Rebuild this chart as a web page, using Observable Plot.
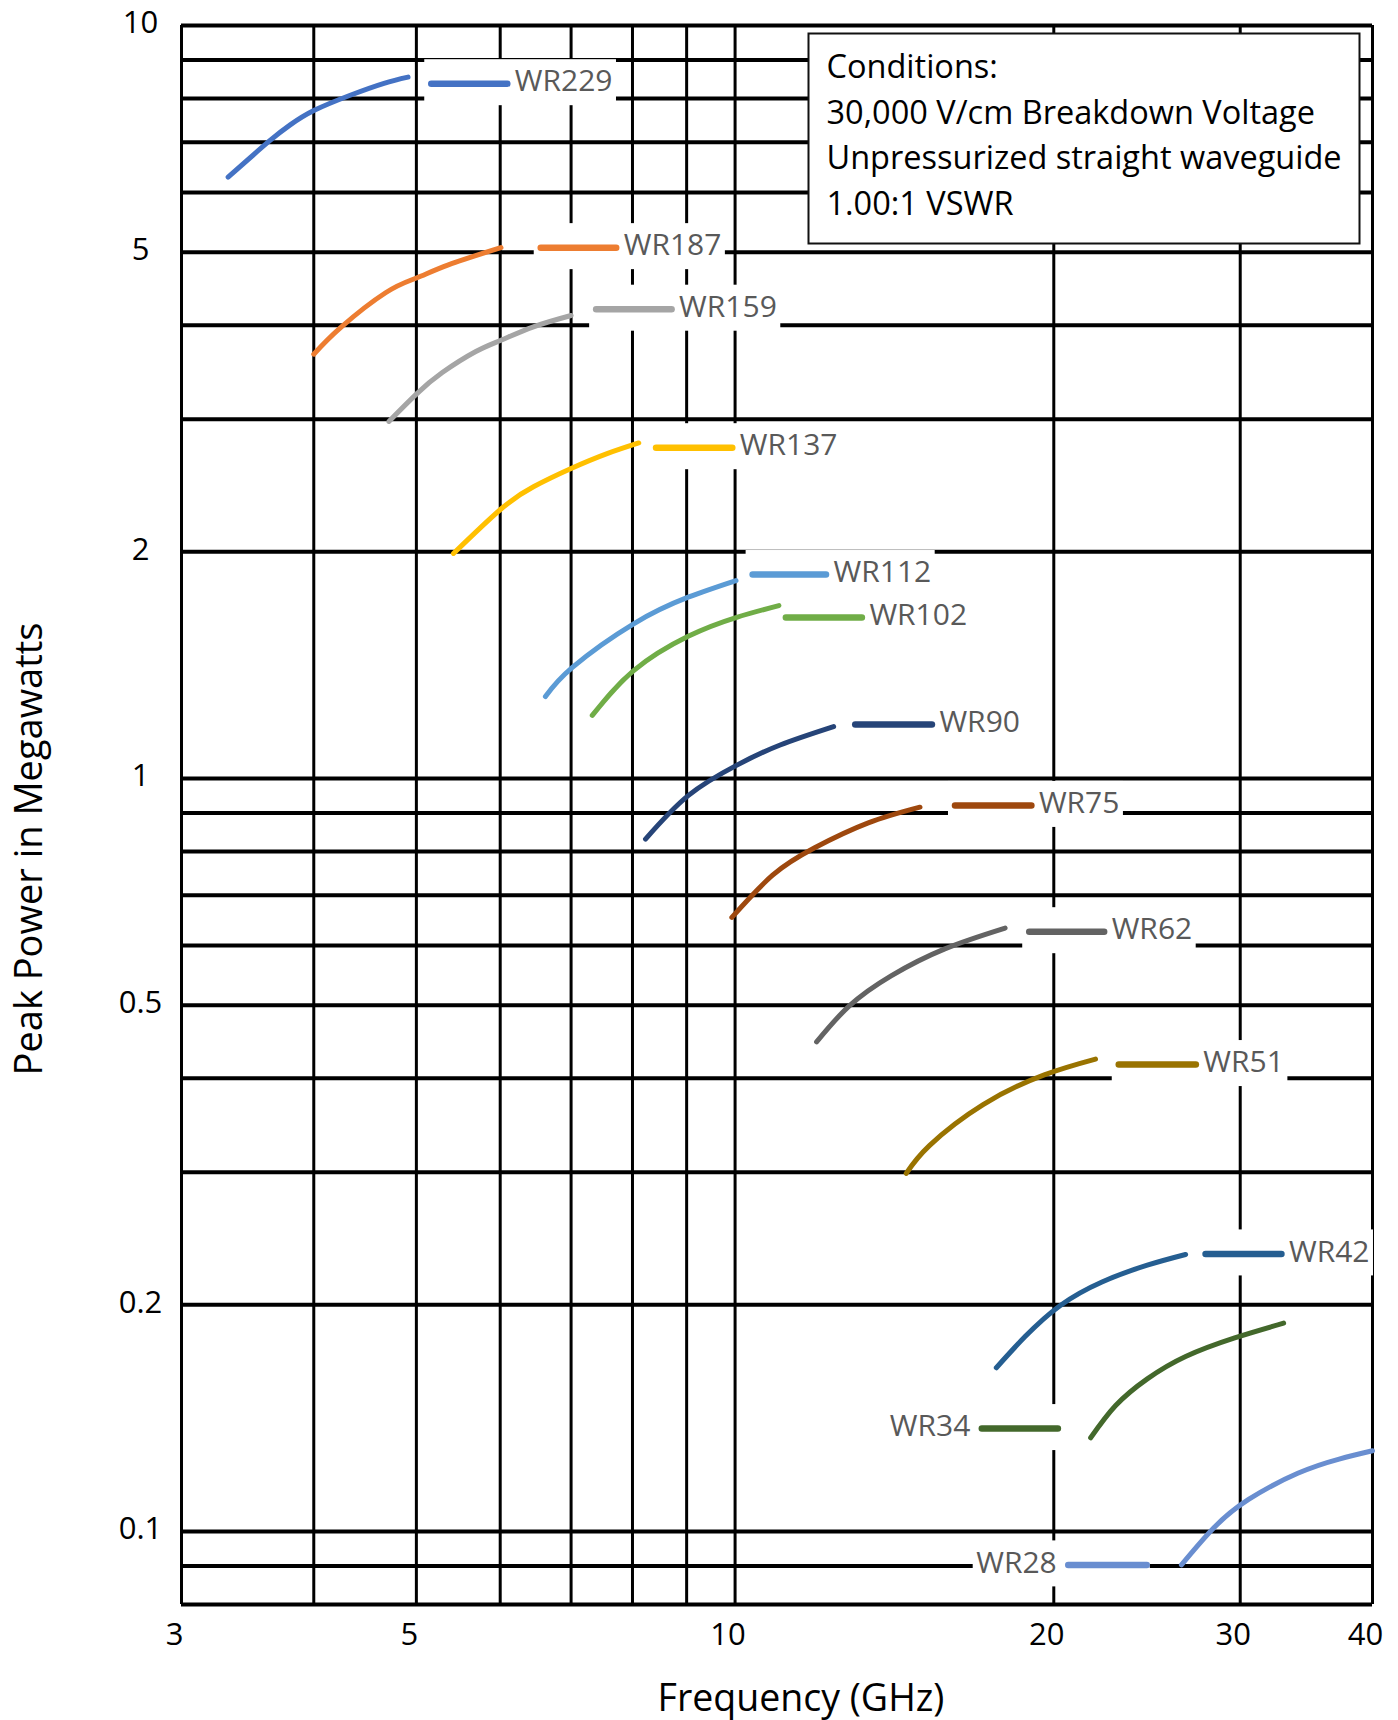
<!DOCTYPE html>
<html><head><meta charset="utf-8">
<script src="https://cdn.jsdelivr.net/npm/d3@7"></script>
<script src="https://cdn.jsdelivr.net/npm/@observablehq/plot@0.6"></script>
<style>
html,body{margin:0;padding:0;background:#fff;}
#chart svg{display:block;}
</style></head><body><div id="chart"></div>
<script>
// ---- data (frequency GHz, peak power MW) ----
const guides = ["WR229","WR187","WR159","WR137","WR112","WR102","WR90","WR75","WR62","WR51","WR42","WR34","WR28"];
const guideColors = ["#4472C4","#ED7D31","#A5A5A5","#FFC000","#5B9BD5","#70AD47","#264478","#9E480E","#636363","#997300","#255E91","#43682B","#698ED0"];

const wr229 = [[3.32,6.29],[3.63,7.02],[3.80,7.38],[4.00,7.71],[4.33,8.08],[4.66,8.38],[4.91,8.54]];
const wr187 = [[4.00,3.66],[4.24,3.97],[4.68,4.42],[5.00,4.62],[5.36,4.81],[6.01,5.07]];
const wr159 = [[4.71,2.98],[5.00,3.24],[5.29,3.46],[5.69,3.69],[6.01,3.82],[6.45,3.98],[7.00,4.12]];
const wr137 = [[5.42,1.99],[6.01,2.28],[6.45,2.44],[7.00,2.58],[7.57,2.70],[8.11,2.79]];
const wr112 = [[6.62,1.285],[7.02,1.405],[8.02,1.605],[9.03,1.741],[10.02,1.832]];
const wr102 = [[7.33,1.213],[8.02,1.391],[9.03,1.545],[10.02,1.636],[11.0,1.697]];
const wr90  = [[8.23,0.831],[9.03,0.949],[10.03,1.041],[11.03,1.108],[12.39,1.172]];
const wr75  = [[9.93,0.654],[10.85,0.744],[11.89,0.809],[13.36,0.873],[14.95,0.916]];
const wr62  = [[11.94,0.447],[12.82,0.499],[14.04,0.547],[15.78,0.594],[17.99,0.633]];
const wr51  = [[14.51,0.299],[15.26,0.3255],[17.15,0.369],[19.59,0.404],[21.9,0.424]];
const wr42  = [[17.65,0.165],[18.79,0.1815],[20.27,0.1995],[22.21,0.2145],[24.51,0.2258],[26.64,0.2333]];
const wr34  = [[21.67,0.1332],[22.88,0.147],[24.51,0.1595],[26.64,0.1708],[29.64,0.1808],[32.97,0.1891]];
const wr28  = [[26.4,0.0903],[28.3,0.101],[30.55,0.1103],[34.0,0.1195],[37.2,0.1248],[40,0.128]];
const seriesValues = [wr229,wr187,wr159,wr137,wr112,wr102,wr90,wr75,wr62,wr51,wr42,wr34,wr28];

// legend key segments placed next to each curve (data units)
const keyStartGHz = [5.17,6.56,7.40,8.43,10.4,11.18,13.0,16.15,18.98,23.06,27.85,17.12,20.66];
const keyEndGHz   = [6.10,7.73,8.72,9.95,12.2,13.19,15.36,19.07,22.34,27.27,32.85,20.2,24.51];
const keyPowerMW  = [8.37,5.07,4.20,2.75,1.866,1.636,1.18,0.921,0.626,0.417,0.2337,0.137,0.0903];
const keyTextSide = ["right","right","right","right","right","right","right","right","right","right","right","left","left"];

const xGridGHz = [3,4,5,6,7,8,9,10,20,30,40];
const yGridMW = [0.08,0.09,0.1,0.2,0.3,0.4,0.5,0.6,0.7,0.8,0.9,1,2,3,4,5,6,7,8,9,10];
const xTickLabels = [3,5,10,20,30,40];
const yTickLabels = [10,5,2,1,0.5,0.2,0.1];
const conditions = ["Conditions:","30,000 V/cm Breakdown Voltage","Unpressurized straight waveguide","1.00:1 VSWR"];

// ---- drawing ----
const FONT = "'Open Sans', sans-serif";
const labelSize = 30;
const ctx = document.createElement("canvas").getContext("2d");
ctx.font = `${labelSize}px 'Open Sans'`;

const marks = [
  Plot.ruleX(xGridGHz, {x: d => d, stroke: "#000", strokeWidth: 3}),
  Plot.ruleY(yGridMW, {y: d => d, stroke: "#000", strokeWidth: 4}),
  Plot.frame({fill: "white", stroke: "#111", strokeWidth: 2, insetLeft: 627, insetTop: 8, insetRight: 13, insetBottom: 1361}),
  Plot.text([conditions.join("\n")], {frameAnchor: "top-left", dx: 645, dy: 20, textAnchor: "start", lineAnchor: "top", lineHeight: 1.406, fontSize: 32.5, fill: "#000"})
];

guides.forEach((name, i) => {
  const w = ctx.measureText(name).width;
  const key = [{f1: keyStartGHz[i], f2: keyEndGHz[i], p: keyPowerMW[i], name}];
  const right = keyTextSide[i] === "right";
  marks.push(Plot.rect(key, {
    x1: "f1", x2: "f2", y1: "p", y2: "p", fill: "white",
    insetTop: -24, insetBottom: -22,
    insetLeft: right ? -7 : -(12 + w + 3),
    insetRight: right ? -(7 + w + 4) : -3
  }));
});

guides.forEach((name, i) => {
  marks.push(Plot.line(seriesValues[i], {x: d => d[0], y: d => d[1], stroke: guideColors[i], strokeWidth: 5, curve: "natural", strokeLinecap: "round"}));
});

guides.forEach((name, i) => {
  const key = [{f1: keyStartGHz[i], f2: keyEndGHz[i], p: keyPowerMW[i], name}];
  const right = keyTextSide[i] === "right";
  marks.push(Plot.ruleY(key, {y: "p", x1: "f1", x2: "f2", stroke: guideColors[i], strokeWidth: 6.5, strokeLinecap: "round"}));
  marks.push(Plot.text(key, {x: right ? "f2" : "f1", y: "p", text: "name", dx: right ? 7 : -12, dy: -2, textAnchor: right ? "start" : "end", fill: "#595959", fontSize: labelSize}));
});

marks.push(
  Plot.text(xTickLabels, {x: d => d, text: d => String(d), frameAnchor: "bottom", dy: 40, dx: -7, fontSize: 31, fill: "#000"}),
  Plot.text(yTickLabels, {y: d => d, text: d => String(d), frameAnchor: "left", dx: -41, dy: -2, textAnchor: "middle", fontSize: 31, fill: "#000"}),
  Plot.text(["Frequency (GHz)"], {frameAnchor: "bottom", textAnchor: "middle", dx: 24, dy: 106, fontSize: 37.5, fill: "#000"}),
  Plot.text(["Peak Power in Megawatts"], {frameAnchor: "left", textAnchor: "middle", dx: -152, dy: 34, rotate: -90, fontSize: 38, fill: "#000"})
);

const chart = Plot.plot({
  width: 1398, height: 1720,
  marginLeft: 181, marginRight: 26, marginTop: 25, marginBottom: 116,
  x: {type: "log", domain: [3, 40], axis: null},
  y: {type: "log", domain: [0.08, 10], axis: null},
  style: {fontFamily: FONT, background: "white", color: "#000"},
  marks
});
document.getElementById("chart").appendChild(chart);
</script></body></html>
